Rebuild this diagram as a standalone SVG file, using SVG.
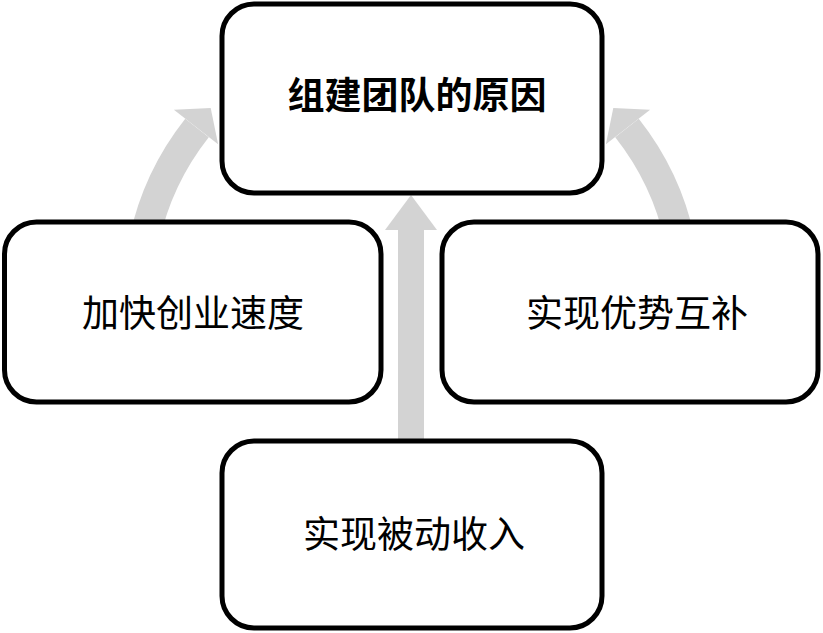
<svg xmlns="http://www.w3.org/2000/svg" width="823" height="633" viewBox="0 0 823 633">
<style>
.box{fill:#fff;stroke:#000;stroke-width:5}
.lbl{font-family:"Noto Sans CJK SC","Noto Sans",sans-serif;font-size:37px;fill:#000;text-anchor:middle}
.b{font-weight:bold}
.shaft{fill:none;stroke:#d3d3d3;stroke-width:30}
.head{fill:#d3d3d3}
</style>
<rect width="823" height="633" fill="#fff"/>
<g id="connectors">
<path class="shaft" d="M 144.2 240 A 273.3 273.3 0 0 1 197 128"/>
<polygon class="head" points="218.1,144.2 210.7,108 173.9,109.8"/>
<path class="shaft" d="M 679.8 240 A 273.3 273.3 0 0 0 627 128"/>
<polygon class="head" points="605.9,144.2 613.3,108 650.1,109.8"/>
<rect class="head" x="398" y="228" width="26" height="215"/>
<polygon class="head" points="385,230 411,195 437,230"/>
</g>
<g id="node-top">
<rect class="box" x="222" y="4" width="380" height="189" rx="32"/>
<text class="lbl b" x="417" y="109">组建团队的原因</text>
</g>
<g id="node-left">
<rect class="box" x="4.5" y="222" width="376.5" height="180" rx="32"/>
<text class="lbl" x="193" y="327">加快创业速度</text>
</g>
<g id="node-right">
<rect class="box" x="442" y="222" width="376" height="180" rx="32"/>
<text class="lbl" x="637" y="327">实现优势互补</text>
</g>
<g id="node-bottom">
<rect class="box" x="222" y="441" width="380" height="187" rx="32"/>
<text class="lbl" x="414" y="548">实现被动收入</text>
</g>
</svg>
